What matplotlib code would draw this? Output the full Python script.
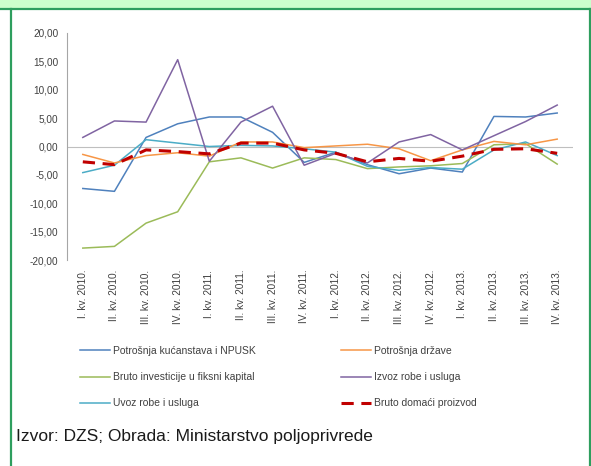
import matplotlib.pyplot as plt
import matplotlib as mpl
from matplotlib.patches import Rectangle
from matplotlib.lines import Line2D

plt.rcParams['font.family'] = ['Liberation Sans', 'DejaVu Sans']

quarters = ["I. kv. 2010.", "II. kv. 2010.", "III. kv. 2010.", "IV. kv. 2010.",
            "I. kv. 2011.", "II. kv. 2011.", "III. kv. 2011.", "IV. kv. 2011.",
            "I. kv. 2012.", "II. kv. 2012.", "III. kv. 2012.", "IV. kv. 2012.",
            "I. kv. 2013.", "II. kv. 2013.", "III. kv. 2013.", "IV. kv. 2013."]

kucanstva = [-7.4, -7.9, 1.6, 4.0, 5.2, 5.2, 2.5, -2.8, -1.0, -3.2, -4.8, -3.8, -4.5, 5.3, 5.2, 5.9]
drzava = [-1.4, -2.9, -1.6, -1.1, -1.7, 0.8, 0.8, -0.2, 0.1, 0.4, -0.4, -2.5, -0.6, 0.9, 0.3, 1.3]
investicije = [-17.9, -17.6, -13.5, -11.5, -2.7, -2.0, -3.8, -2.0, -2.3, -3.9, -3.6, -3.4, -3.0, 0.3, 0.5, -3.1]
izvoz = [1.6, 4.5, 4.3, 15.3, -2.6, 4.3, 7.1, -3.3, -1.2, -2.9, 0.8, 2.1, -0.6, 1.9, 4.4, 7.3]
uvoz = [-4.6, -3.3, 1.2, 0.6, 0.0, 0.2, 0.1, -0.4, -1.0, -3.5, -4.2, -3.7, -4.0, -0.6, 0.8, -1.6]
bdp = [-2.7, -3.2, -0.6, -0.9, -1.3, 0.6, 0.6, -0.6, -1.2, -2.7, -2.1, -2.6, -1.7, -0.5, -0.4, -1.2]

W, H = 591, 466
fig = plt.figure(figsize=(W / 100, H / 100), dpi=100)

# frame: light green band on top, dark green border lines
fig.patches.append(Rectangle((0, 1 - 8 / H), 1, 8 / H, transform=fig.transFigure,
                             facecolor='#ccffcc', edgecolor='none', zorder=0))
fig.add_artist(Line2D([0, 1], [1 - 8.5 / H, 1 - 8.5 / H], transform=fig.transFigure,
                      color='#2e9e5e', lw=1.6))
fig.add_artist(Line2D([10.5 / W, 10.5 / W], [0, 1 - 8.5 / H], transform=fig.transFigure,
                      color='#2e9e5e', lw=1.6))
fig.add_artist(Line2D([589.5 / W, 589.5 / W], [0, 1 - 8.5 / H], transform=fig.transFigure,
                      color='#2e9e5e', lw=1.6))

ax = fig.add_axes([67 / W, 1 - 260 / H, (573 - 67) / W, (260 - 33) / H])
x = range(len(quarters))

ax.axhline(0, color='#bfbfbf', lw=0.8, zorder=1)
l1, = ax.plot(x, kucanstva, color='#4f81bd', lw=1.1)
l2, = ax.plot(x, investicije, color='#9bbb59', lw=1.1)
l3, = ax.plot(x, uvoz, color='#4bacc6', lw=1.1)
l4, = ax.plot(x, drzava, color='#f79646', lw=1.1)
l5, = ax.plot(x, izvoz, color='#8064a2', lw=1.1)
l6, = ax.plot(x, bdp, color='#c00000', lw=2.2, dashes=(4, 2.5))

ax.set_xlim(-0.5, 15.5)
ax.set_ylim(-20, 20)
ax.set_yticks(range(-20, 21, 5))
ax.set_yticklabels([f"{v:.2f}".replace('.', ',') for v in range(-20, 21, 5)])
ax.set_xticks(list(x))
ax.set_xticklabels(quarters, rotation=90)
ax.tick_params(axis='y', length=0, labelsize=7.2, labelcolor='#404040', pad=6)
ax.tick_params(axis='x', length=0, labelsize=7.3, labelcolor='#404040', pad=7)
for s in ['top', 'right', 'bottom']:
    ax.spines[s].set_visible(False)
ax.spines['left'].set_color('#a6a6a6')
ax.spines['left'].set_linewidth(0.8)

leg_kw = dict(loc='upper left', frameon=False, fontsize=7.5, handlelength=2.9,
              handletextpad=0.3, labelspacing=1.55, labelcolor='#404040',
              borderaxespad=0, borderpad=0)
fig.legend([l1, l2, l3], ['Potrošnja kućanstava i NPUSK',
                          'Bruto investicije u fiksni kapital',
                          'Uvoz robe i usluga'],
           bbox_to_anchor=(80 / W, 1 - 346 / H), **leg_kw)
fig.legend([l4, l5, l6], ['Potrošnja države', 'Izvoz robe i usluga', 'Bruto domaći proizvod'],
           bbox_to_anchor=(341 / W, 1 - 346 / H), **leg_kw)

fig.text(16 / W, 1 - 437 / H, 'Izvor: DZS; Obrada: Ministarstvo poljoprivrede',
         fontsize=12.5, va='center', ha='left', color='#1a1a1a')

fig.savefig('out.png', dpi=100)
